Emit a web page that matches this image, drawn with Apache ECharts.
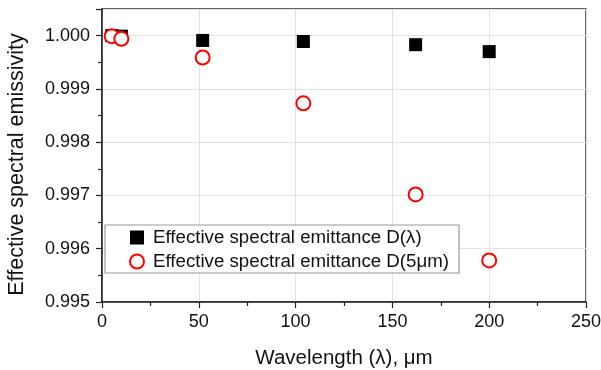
<!DOCTYPE html>
<html>
<head>
<meta charset="utf-8">
<script src="https://cdn.jsdelivr.net/npm/echarts@6/dist/echarts.min.js"></script>
<style>
  html, body { margin: 0; padding: 0; background: #fff; }
  #main { width: 601px; height: 370px; }
</style>
</head>
<body>
<div id="main"></div>
<script>
// wavelength positions, um
var wavelengths = [5, 10, 52, 104, 162, 200];
// Effective spectral emittance D(lambda)
var emitLambda = [1.00000, 0.99999, 0.99991, 0.99989, 0.99983, 0.99970];
// Effective spectral emittance D(5um)
var emit5um = [0.99999, 0.99994, 0.99959, 0.99873, 0.99702, 0.99578];

var seriesNames = ['Effective spectral emittance D(\u03bb)', 'Effective spectral emittance D(5\u03bcm)'];

function pairs(xs, ys) {
    return xs.map(function (x, i) { return [x, ys[i]]; });
}

var chartDom = document.getElementById('main');
var myChart = echarts.init(chartDom, null, { renderer: 'canvas' });
var font = 'Liberation Sans, Arial, sans-serif';

var option = {
    animation: false,
    textStyle: { fontFamily: font, color: '#000' },
    grid: {
        left: 102,
        right: 15,
        top: 9,
        bottom: 68,
        outerBoundsMode: 'none',
        show: true,
        borderColor: '#333',
        borderWidth: 1.5,
        backgroundColor: 'transparent'
    },
    legend: {
        orient: 'vertical',
        left: 105,
        top: 225,
        data: seriesNames,
        backgroundColor: '#fff',
        borderColor: '#999',
        borderWidth: 1.2,
        borderRadius: 0,
        padding: [3, 10, 2, 24],
        itemWidth: 14,
        itemHeight: 14,
        itemGap: 5,
        textStyle: { fontFamily: font, fontSize: 18.7, color: '#111', padding: [0, 0, 0, 4] }
    },
    xAxis: {
        type: 'value',
        min: 0,
        max: 250,
        interval: 50,
        name: 'Wavelength (\u03bb), \u03bcm',
        nameLocation: 'middle',
        nameGap: 46,
        nameTextStyle: { fontFamily: font, fontSize: 20.5, color: '#111' },
        axisLine: { show: true, onZero: false, lineStyle: { color: '#222', width: 1.5 } },
        axisTick: { show: true, length: 6, lineStyle: { color: '#222', width: 1.2 } },
        minorTick: { show: true, splitNumber: 2, length: 4, lineStyle: { color: '#222', width: 1.2 } },
        axisLabel: { fontFamily: font, fontSize: 18, color: '#111', margin: 11 },
        splitLine: { show: true, lineStyle: { color: '#e2e2e2', width: 1 } }
    },
    yAxis: {
        type: 'value',
        min: 0.995,
        max: 1.0005,
        interval: 0.001,
        name: 'Effective spectral emissivity',
        nameLocation: 'middle',
        nameGap: 74,
        nameTextStyle: { fontFamily: font, fontSize: 21.5, color: '#111', padding: [0, 18, 0, 0] },
        axisLine: { show: true, lineStyle: { color: '#222', width: 1.5 } },
        axisTick: { show: true, length: 6, lineStyle: { color: '#222', width: 1.2 } },
        minorTick: { show: true, splitNumber: 2, length: 4, lineStyle: { color: '#222', width: 1.2 } },
        axisLabel: {
            fontFamily: font, fontSize: 18, color: '#111', margin: 12,
            formatter: function (v) {
                return v > 1.0002 ? '' : v.toFixed(3);
            }
        },
        splitLine: { show: true, lineStyle: { color: '#e2e2e2', width: 1 } }
    },
    series: [
        {
            name: seriesNames[0],
            type: 'scatter',
            symbol: 'rect',
            symbolSize: 13,
            itemStyle: { color: '#000', opacity: 1 },
            data: pairs(wavelengths, emitLambda),
            z: 2
        },
        {
            name: seriesNames[1],
            type: 'scatter',
            symbol: 'emptyCircle',
            symbolSize: 14,
            itemStyle: { color: '#f00', borderColor: '#f00', borderWidth: 1.8, opacity: 1 },
            data: pairs(wavelengths, emit5um),
            z: 3
        }
    ]
};

option && myChart.setOption(option);
</script>
</body>
</html>
